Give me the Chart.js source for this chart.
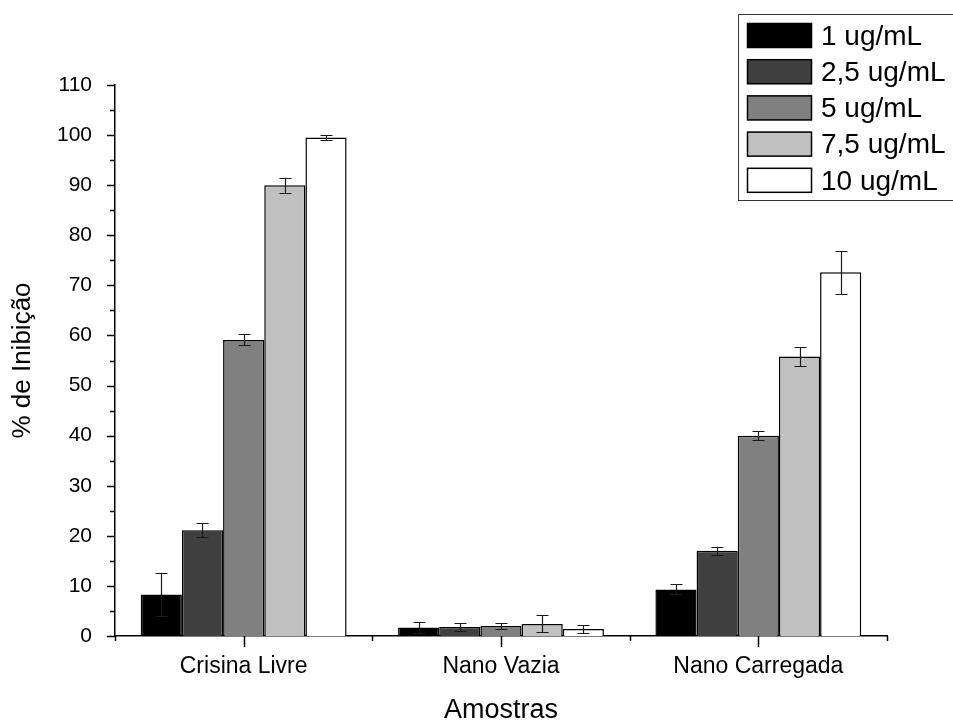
<!DOCTYPE html>
<html>
<head>
<meta charset="utf-8">
<script src="https://cdn.jsdelivr.net/npm/chart.js@4.4.0/dist/chart.umd.min.js"></script>
<style>
  html, body { margin: 0; padding: 0; background: #fff; }
  #wrap { width: 953px; height: 722px; }
</style>
</head>
<body>
<div id="wrap"><canvas id="inibicaoChart"></canvas></div>
<script>
// Categories on the x axis
const amostras = ['Crisina Livre', 'Nano Vazia', 'Nano Carregada'];

// Concentrations (one series each)
const concentracoes = ['1 ug/mL', '2,5 ug/mL', '5 ug/mL', '7,5 ug/mL', '10 ug/mL'];

// % inhibition for each concentration, per sample
const inib1 = [8.3, 1.7, 9.3];
const inib25 = [21.1, 1.8, 17.0];
const inib5 = [59.1, 2.0, 40.0];
const inib75 = [90.0, 2.4, 55.8];
const inib10 = [99.5, 1.4, 72.6];

// Error bar half-heights
const err1 = [4.3, 1.1, 1.0];
const err25 = [1.4, 0.8, 0.8];
const err5 = [1.1, 0.6, 0.9];
const err75 = [1.5, 1.7, 1.9];
const err10 = [0.5, 0.8, 4.3];

// Y axis ticks
const yMin = 0;
const yMax = 110;
const yStep = 10;

const fontFamily = '"Liberation Sans", Arial, sans-serif';
const fills = ['#000000', '#404040', '#808080', '#c0c0c0', '#ffffff'];
const valores = [inib1, inib25, inib5, inib75, inib10];
const erros = [err1, err25, err5, err75, err10];

const datasets = concentracoes.map((label, i) => ({
    label: label,
    data: valores[i],
    errors: erros[i],
    backgroundColor: fills[i],
    borderColor: '#000000',
    borderWidth: 1.5,
    borderSkipped: 'bottom',
    barPercentage: 1.0,
    categoryPercentage: 0.8
}));

// Error bars drawn from the y scale
const errorBars = {
    id: 'errorBars',
    afterDatasetsDraw(chart) {
        const ctx = chart.ctx;
        const y = chart.scales.y;
        ctx.save();
        ctx.strokeStyle = '#1a1a1a';
        ctx.lineWidth = 1.2;
        chart.data.datasets.forEach((ds, di) => {
            const meta = chart.getDatasetMeta(di);
            meta.data.forEach((bar, i) => {
                const v = ds.data[i];
                const e = ds.errors[i];
                const top = y.getPixelForValue(v + e);
                const bot = y.getPixelForValue(Math.max(v - e, 0));
                const x = Math.round(bar.x) + 0.5;
                const cap = 6;
                ctx.beginPath();
                ctx.moveTo(x, top); ctx.lineTo(x, bot);
                ctx.moveTo(x - cap, Math.round(top) + 0.5); ctx.lineTo(x + cap, Math.round(top) + 0.5);
                ctx.moveTo(x - cap, Math.round(bot) + 0.5); ctx.lineTo(x + cap, Math.round(bot) + 0.5);
                ctx.stroke();
            });
        });
        ctx.restore();
    }
};

// Tick marks (major and minor) on both axes
const axisTicks = {
    id: 'axisTicks',
    afterDraw(chart) {
        const ctx = chart.ctx;
        const x = chart.scales.x;
        const y = chart.scales.y;
        const area = chart.chartArea;
        ctx.save();
        ctx.strokeStyle = '#000';
        ctx.lineWidth = 1.5;
        ctx.beginPath();
        // y axis: major every 10, minor every 5
        for (let v = yMin; v <= yMax; v += yStep / 2) {
            const py = Math.round(y.getPixelForValue(v)) + 0.5;
            const len = (v % yStep === 0) ? 8 : 5;
            ctx.moveTo(area.left, py); ctx.lineTo(area.left - len, py);
        }
        // x axis: major at categories, minor at boundaries
        const n = amostras.length;
        const w = (area.right - area.left) / n;
        for (let i = 0; i <= n; i++) {
            const px = Math.round(area.left + i * w) + 0.5;
            ctx.moveTo(px, area.bottom); ctx.lineTo(px, area.bottom + 5);
        }
        for (let i = 0; i < n; i++) {
            const px = Math.round(x.getPixelForValue(i)) + 0.5;
            ctx.moveTo(px, area.bottom); ctx.lineTo(px, area.bottom + 11);
        }
        ctx.stroke();
        ctx.restore();
    }
};

// Boxed legend at the top right
const boxLegend = {
    id: 'boxLegend',
    afterDraw(chart) {
        const ctx = chart.ctx;
        ctx.save();
        ctx.strokeStyle = '#333';
        ctx.lineWidth = 1;
        ctx.strokeRect(738.5, 14.5, 230, 186);
        ctx.font = '28px ' + fontFamily;
        ctx.textBaseline = 'middle';
        chart.data.datasets.forEach((ds, i) => {
            const top = 23 + i * 36.2;
            ctx.fillStyle = ds.backgroundColor;
            ctx.fillRect(747, top, 65, 25);
            ctx.lineWidth = 1.5;
            ctx.strokeStyle = '#000';
            ctx.strokeRect(747.5, top + 0.5, 64, 24);
            ctx.fillStyle = '#000';
            ctx.fillText(ds.label, 821, top + 14);
        });
        ctx.restore();
    }
};

const ctx = document.getElementById('inibicaoChart').getContext('2d');

new Chart(ctx, {
    type: 'bar',
    data: { labels: amostras, datasets: datasets },
    options: {
        responsive: true,
        maintainAspectRatio: false,
        animation: false,
        layout: { padding: { top: 85, right: 66, left: 0, bottom: 0 } },
        plugins: {
            legend: { display: false },
            tooltip: { enabled: false }
        },
        scales: {
            x: {
                grid: { display: false, drawTicks: false },
                border: { display: true, color: '#000', width: 1.5 },
                ticks: {
                    color: '#000',
                    padding: 17,
                    font: { family: fontFamily, size: 23 }
                },
                title: {
                    display: true,
                    text: 'Amostras',
                    color: '#000',
                    padding: { top: 0, bottom: 3 },
                    font: { family: fontFamily, size: 27, lineHeight: 0.6 }
                },
                afterFit(scale) { scale.height = 86; }
            },
            y: {
                min: yMin,
                max: yMax,
                grid: { display: false, drawTicks: false },
                border: { display: true, color: '#000', width: 1.5 },
                ticks: {
                    stepSize: yStep,
                    color: '#000',
                    padding: 23,
                    font: { family: fontFamily, size: 21 }
                },
                title: {
                    display: true,
                    text: '% de Inibição',
                    color: '#000',
                    padding: { top: 7, bottom: 0 },
                    font: { family: fontFamily, size: 26 }
                },
                afterFit(scale) { scale.width = 115; }
            }
        }
    },
    plugins: [errorBars, axisTicks, boxLegend]
});
</script>
</body>
</html>
